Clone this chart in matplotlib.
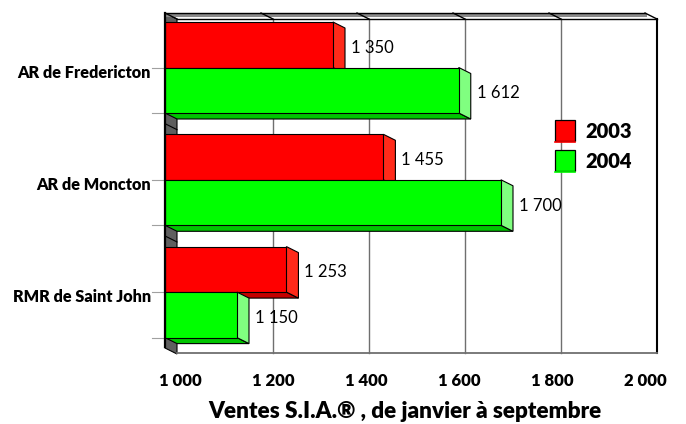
import matplotlib
matplotlib.use("Agg")
import matplotlib.pyplot as plt
from matplotlib.patches import Polygon, Rectangle

# --- data -------------------------------------------------------------
categories = ["AR de Fredericton", "AR de Moncton", "RMR de Saint John"]
series_names = ["2003", "2004"]
sales_2003 = [1350, 1455, 1253]
sales_2004 = [1612, 1700, 1150]
x_ticks = [1000, 1200, 1400, 1600, 1800, 2000]
x_title = "Ventes S.I.A.® , de janvier à septembre"

front_colors = ["#ff0000", "#00ff00"]
side_colors = ["#ff2a1a", "#80ff80"]
under_colors = ["#c40000", "#00c400"]

plt.rcParams["font.family"] = ["Lato", "DejaVu Sans"]
BOLD = "heavy"

W, H = 686, 424
fig = plt.figure(figsize=(W / 100, H / 100), dpi=100)
ax = fig.add_axes([0, 0, 1, 1])
ax.axis("off")

# value axis: 1000 sits at the front-left edge, 0.48 px per unit
X0_PX, SCALE = 165, 0.48
VMIN, VMAX = x_ticks[0], x_ticks[-1]
ax.set_xlim(VMIN - X0_PX / SCALE, VMIN + (W - X0_PX) / SCALE)
ax.set_ylim(H, 0)


def at_px(px):
    """Horizontal figure pixel expressed in value units."""
    return VMIN + (px - X0_PX) / SCALE


# 3-D depth offset (back is right/down)
DX = 12 / SCALE
DY = 6
TOP_F, BOT_F = 13, 347
TOP_B, BOT_B = TOP_F + DY, BOT_F + DY

# left wall
ax.add_patch(Polygon([(VMIN, TOP_F), (VMIN + DX, TOP_B), (VMIN + DX, BOT_B + 1),
                      (VMIN, BOT_F + 1)], closed=True, facecolor="#5f5f5f",
                     edgecolor="black", lw=0.8, zorder=1))

# back wall grid
for v in x_ticks[1:-1]:
    ax.plot([v + DX, v + DX], [TOP_B, BOT_B], color="#6f6f6f", lw=1.0, zorder=1)
ax.plot([VMAX + DX, VMAX + DX], [TOP_B, BOT_B], color="black", lw=1.5, zorder=1)
ax.plot([VMIN + DX, VMAX + DX], [BOT_B, BOT_B], color="#6f6f6f", lw=1.3, zorder=1)
ax.plot([VMIN + DX, VMAX + DX], [TOP_B, TOP_B], color="black", lw=1.0, zorder=1)

# top edge of the box
ax.plot([VMIN, VMAX], [TOP_F + 1.5, TOP_F + 1.5], color="#8a8a8a", lw=2.2, zorder=1)
ax.plot([VMIN, VMAX], [TOP_F, TOP_F], color="black", lw=1.0, zorder=1)
for v in x_ticks:
    ax.plot([v, v + DX], [TOP_F, TOP_B], color="black", lw=1.0, zorder=1)

# bars
GROUP0, PITCH, BAR_H = 67.5, 112.3, 45.5
for i, cat in enumerate(categories):
    center = GROUP0 + PITCH * i
    # divider between categories on the wall
    if i > 0:
        yb = center - PITCH / 2
        ax.plot([VMIN, VMIN + DX], [yb, yb + DY], color="black", lw=0.8, zorder=1)
    for j, vals in enumerate([sales_2003, sales_2004]):
        v = vals[i]
        ytop = center - BAR_H + j * BAR_H
        ybot = ytop + BAR_H
        z = 2 + j
        ax.add_patch(Polygon([(VMIN, ybot), (v, ybot), (v + DX, ybot + DY),
                              (VMIN + DX, ybot + DY)], closed=True,
                             facecolor=under_colors[j], edgecolor="black", lw=0.8, zorder=z))
        ax.add_patch(Polygon([(v, ytop), (v + DX, ytop + DY), (v + DX, ybot + DY),
                              (v, ybot)], closed=True,
                             facecolor=side_colors[j], edgecolor="black", lw=0.8, zorder=z))
        ax.add_patch(Rectangle((VMIN, ytop), v - VMIN, BAR_H,
                               facecolor=front_colors[j], edgecolor="black", lw=0.8, zorder=z))
        ax.plot([at_px(152), VMIN], [ybot, ybot], color="#a0a0a0", lw=0.8, zorder=1)
        label = f"{v:,}".replace(",", " ")
        ax.text(v + DX + 6 / SCALE, (ytop + ybot) / 2 + DY / 2, label,
                ha="left", va="center", fontsize=12, color="black", zorder=5)
    ax.text(at_px(151), center + 5, cat, ha="right", va="center",
            fontsize=11.7, fontweight=BOLD, color="black")

# left front edge
ax.plot([VMIN, VMIN], [TOP_F, BOT_F], color="black", lw=1.6, zorder=6)

# value-axis labels
for v in x_ticks:
    lab = f"{v:,}".replace(",", " ")
    ax.text(at_px(202 + (v - VMIN) * 0.465), 381, lab, ha="right", va="center",
            fontsize=12, fontweight=BOLD, color="black")

ax.text(at_px(405), 411, x_title, ha="center", va="center",
        fontsize=16.2, fontweight=BOLD, color="black")

# legend
for j, name in enumerate(series_names):
    ytop = 120 + 30 * j
    ax.add_patch(Rectangle((at_px(555), ytop), 20 / SCALE, 21,
                           facecolor=front_colors[j], edgecolor="black", lw=0.9, zorder=5))
    ax.plot([at_px(555), at_px(575)], [ytop + 22.2, ytop + 22.2],
            color=front_colors[j], lw=1.2, zorder=5)
    ax.text(at_px(585), ytop + 11.5, name, ha="left", va="center",
            fontsize=14.5, fontweight=BOLD, color="black")

fig.savefig("out.png", dpi=100)
